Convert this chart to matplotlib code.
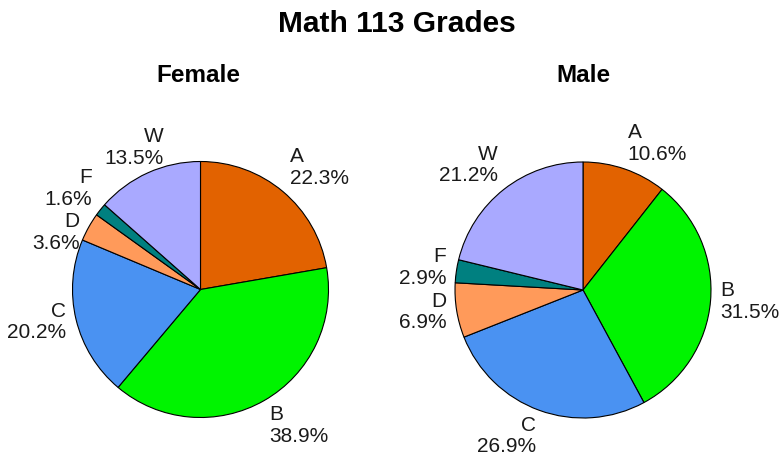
import numpy as np
import matplotlib
matplotlib.use("Agg")
import matplotlib.pyplot as plt

grades = ["A", "B", "C", "D", "F", "W"]
female_pct = [22.3, 38.9, 20.2, 3.6, 1.6, 13.5]
male_pct = [10.6, 31.5, 26.9, 6.9, 2.9, 21.2]
colors = ["#E26200", "#00F400", "#4A92F2", "#FF9A5A", "#008080", "#A9A9FF"]

plt.rcParams['font.family'] = ['Liberation Sans', 'DejaVu Sans']

W, H = 780, 459
fig = plt.figure(figsize=(W / 100, H / 100), dpi=100)
fig.patch.set_facecolor("white")

fig.text(397 / W, 1 - 32 / H, "Math 113 Grades", ha="center", va="baseline",
         fontsize=21.5, fontweight="bold")

renderer = fig.canvas.get_renderer()
LABEL_FS = 15
PAD = 0.2 * LABEL_FS * 100 / 72   # gap between text box and visible glyphs (px)
GAP = 12                          # minimum gap between labels (px)


def make_pie(cx, cy, r, values, title, title_x):
    ax = fig.add_axes([(cx - r) / W, 1 - (cy + r) / H, 2 * r / W, 2 * r / H])
    wedges, _ = ax.pie(values, colors=colors, startangle=90, counterclock=False,
                       radius=1.0,
                       wedgeprops=dict(edgecolor="black", linewidth=0.8))
    ax.set_xlim(-1, 1)
    ax.set_ylim(-1, 1)
    ax.set_aspect("equal")
    ax.axis("off")

    labs = []
    for wdg, g, v in zip(wedges, grades, values):
        ang = np.deg2rad((wdg.theta1 + wdg.theta2) / 2)
        c, s = np.cos(ang), np.sin(ang)
        t = fig.text(0, 0, f"{g}\n{v:.1f}%", ha="center", va="center",
                     multialignment="left" if c > 0 else "right",
                     fontsize=LABEL_FS, color="#1a1a1a", linespacing=1.18)
        bb = t.get_window_extent(renderer=renderer)
        w, h = bb.width, bb.height
        d = 1.08 * r
        ax_px, ay_px = cx + d * c, cy - d * s
        xo = np.clip(3 * c, -1, 1)
        yo = np.sign(s) * np.clip((abs(s) - 0.25) * 2.5, 0, 1)
        x = ax_px + xo * w / 2
        y = ay_px - yo * (h / 2 - PAD)
        labs.append(dict(t=t, x=x, y=y, w=w, h=h - 2 * PAD, c=c, s=s))

    for _ in range(5):
        for i in range(len(labs)):
            for j in range(i + 1, len(labs)):
                a, b = labs[i], labs[j]
                if np.sign(a["c"]) != np.sign(b["c"]):
                    continue
                dx_need = (a["w"] + b["w"]) / 2 + GAP - abs(a["x"] - b["x"])
                dy_need = (a["h"] + b["h"]) / 2 + GAP - abs(a["y"] - b["y"])
                if dx_need <= 0 or dy_need <= 0:
                    continue
                upper, lower = (a, b) if abs(a["s"]) > abs(b["s"]) else (b, a)
                if abs(upper["c"]) < 0.5 and dx_need < 40:
                    # slide the label near the top sideways, toward the pie's axis
                    direction = 1 if upper["x"] > lower["x"] else -1
                    upper["x"] += direction * dx_need
                else:
                    direction = 1 if lower["y"] > upper["y"] else -1
                    lower["y"] += direction * dy_need

    for L in labs:
        L["t"].set_position((L["x"] / W, 1 - L["y"] / H))

    fig.text(title_x / W, 1 - 82 / H, title, ha="center", va="baseline",
             fontsize=17.5, fontweight="bold")


make_pie(200.5, 289.5, 128, female_pct, "Female", 198)
make_pie(583, 290, 128, male_pct, "Male", 583.5)

fig.savefig("out.png", dpi=100)
